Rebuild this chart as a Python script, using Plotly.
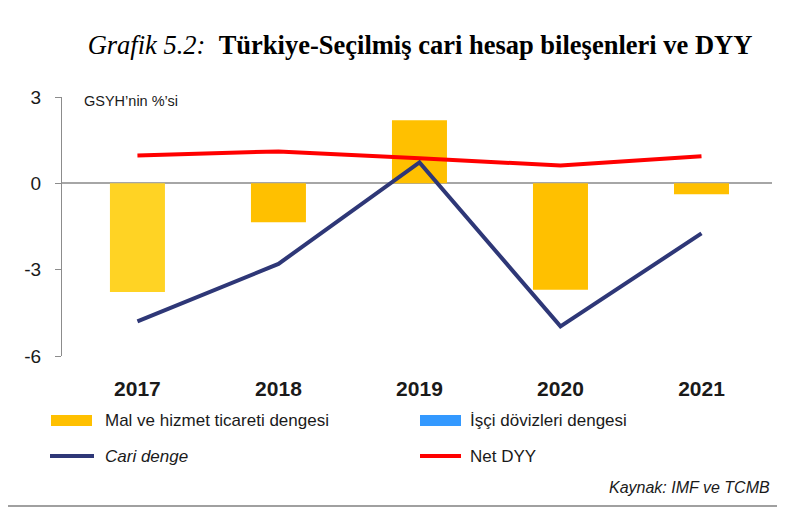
import plotly.graph_objects as go

years = ["2017", "2018", "2019", "2020", "2021"]
mal_hizmet = [-3.78, -1.35, 2.19, -3.70, -0.38]
isci_dovizleri = [0.0, 0.0, 0.0, 0.0, 0.0]
cari_denge = [-4.80, -2.80, 0.73, -4.97, -1.74]
net_dyy = [0.97, 1.11, 0.87, 0.62, 0.94]
y_ticks = [3, 0, -3, -6]

W, H = 785, 508
OFF = 8  # page body margin offset
L, R, T, B = 62 - OFF, 772 - OFF, 97 - OFF, 356 - OFF

def px(x):
    return (x - OFF - L) / (R - L)

def py(y):
    return (B - (y - OFF)) / (B - T)

bar_colors = ["#FFD324", "#FFC000", "#FFC000", "#FFC000", "#FFC000"]

fig = go.Figure()
fig.add_trace(go.Bar(x=years, y=mal_hizmet, marker=dict(color=bar_colors, line=dict(width=0)),
                     width=0.39, name="Mal ve hizmet ticareti dengesi", showlegend=False))
fig.add_trace(go.Bar(x=years, y=isci_dovizleri, marker=dict(color="#3399FF", line=dict(width=0)),
                     width=0.39, name="İşçi dövizleri dengesi", showlegend=False))
fig.add_trace(go.Scatter(x=years, y=net_dyy, mode="lines", line=dict(color="#FF0000", width=4),
                         name="Net DYY", showlegend=False))
fig.add_trace(go.Scatter(x=years, y=cari_denge, mode="lines", line=dict(color="#2E3777", width=4),
                         name="Cari denge", showlegend=False))

shapes = []
annotations = []
# border (bottom edge visible)
shapes.append(dict(type="line", xref="paper", yref="paper",
                   x0=px(6), x1=px(800), y0=py(506), y1=py(506),
                   line=dict(color="#A0A0A0", width=2)))

legend_font = dict(family="Liberation Sans, Arial, sans-serif", size=17, color="#1a1a1a")
shapes.append(dict(type="rect", xref="paper", yref="paper", x0=px(51), x1=px(92), y0=py(426), y1=py(415),
                   fillcolor="#FFC000", line=dict(width=0)))
annotations.append(dict(xref="paper", yref="paper", x=px(103), y=py(420), text="Mal ve hizmet ticareti dengesi",
                        showarrow=False, xanchor="left", yanchor="middle", font=legend_font))
shapes.append(dict(type="rect", xref="paper", yref="paper", x0=px(420), x1=px(461), y0=py(426), y1=py(415),
                   fillcolor="#3399FF", line=dict(width=0)))
annotations.append(dict(xref="paper", yref="paper", x=px(468), y=py(420), text="İşçi dövizleri dengesi",
                        showarrow=False, xanchor="left", yanchor="middle", font=legend_font))
shapes.append(dict(type="line", xref="paper", yref="paper", x0=px(50), x1=px(94), y0=py(456), y1=py(456),
                   line=dict(color="#2E3777", width=4)))
annotations.append(dict(xref="paper", yref="paper", x=px(103), y=py(456), text="<i>Cari denge</i>",
                        showarrow=False, xanchor="left", yanchor="middle", font=legend_font))
shapes.append(dict(type="line", xref="paper", yref="paper", x0=px(420), x1=px(461), y0=py(456), y1=py(456),
                   line=dict(color="#FF0000", width=4)))
annotations.append(dict(xref="paper", yref="paper", x=px(468), y=py(456), text="Net DYY",
                        showarrow=False, xanchor="left", yanchor="middle", font=legend_font))

annotations.append(dict(xref="paper", yref="paper", x=px(772), y=py(487), text="<i>Kaynak: IMF ve TCMB</i>",
                        showarrow=False, xanchor="right", yanchor="middle",
                        font=dict(family="Liberation Sans, Arial, sans-serif", size=16, color="#1a1a1a")))
annotations.append(dict(xref="paper", yref="paper", x=px(82), y=py(101), text="GSYH’nin %’si",
                        showarrow=False, xanchor="left", yanchor="middle",
                        font=dict(family="Liberation Sans, Arial, sans-serif", size=14.5, color="#1a1a1a")))

fig.update_layout(
    width=W, height=H,
    margin=dict(l=L, r=W - R, t=T, b=H - B, pad=0),
    paper_bgcolor="white", plot_bgcolor="white",
    barmode="overlay",
    title=dict(text="<i>Grafik 5.2:</i>  <b>Türkiye-Seçilmiş cari hesap bileşenleri ve DYY</b>",
               x=(420 - OFF) / W, xanchor="center", xref="container",
               y=1 - (45 - OFF) / H, yanchor="middle", yref="container",
               font=dict(family="Liberation Serif, Times New Roman, serif", size=26.5, color="black")),
    shapes=shapes, annotations=annotations,
    showlegend=False,
)
fig.update_xaxes(type="category", range=[-0.535, 4.5], showline=False, showgrid=False, ticks="",
                 zeroline=False, ticklabelstandoff=18,
                 tickfont=dict(family="Liberation Sans, Arial, sans-serif", size=21, color="#1a1a1a",
                               weight="bold"))
fig.update_yaxes(range=[-6, 3], tickvals=y_ticks, ticktext=[str(v) for v in y_ticks],
                 showline=True, linecolor="#8C8C8C", linewidth=1,
                 ticks="outside", ticklen=6, tickcolor="#8C8C8C", tickwidth=1,
                 showgrid=False, zeroline=True, zerolinecolor="#A6A6A6", zerolinewidth=2,
                 ticklabelstandoff=10,
                 tickfont=dict(family="Liberation Sans, Arial, sans-serif", size=19, color="#1a1a1a"))

fig.write_html("out.html")
